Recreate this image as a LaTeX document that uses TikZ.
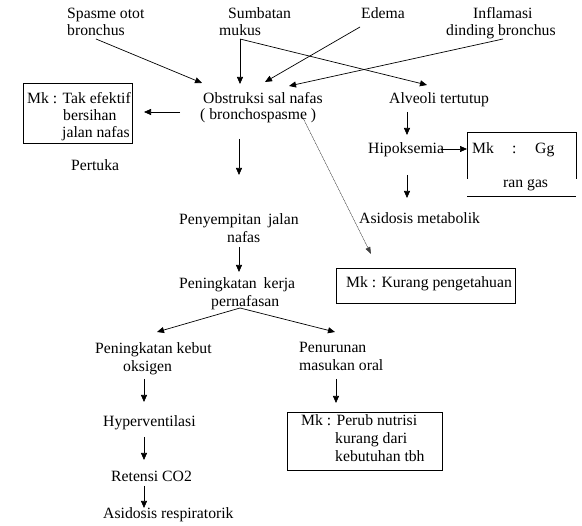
\documentclass[tikz,border=0pt]{standalone}
\usepackage{fontspec}
\setmainfont{Liberation Serif}
\usetikzlibrary{arrows.meta}
\begin{document}
\begin{tikzpicture}[x=1pt,y=-1pt,
  txt/.style={anchor=base west, inner sep=0pt, font=\fontsize{15.7}{18}\selectfont},
  arr/.style={-{Triangle[length=7pt,width=6pt]}, line width=0.7pt},
  dotarr/.style={-{Triangle[length=7pt,width=5pt]}, line width=0.6pt, densely dotted, draw=black!75, fill=black},
  boxx/.style={draw, line width=0.8pt, inner sep=0pt}]
\useasboundingbox (0,0) rectangle (582,526);
% top causes
\node[txt] (spa1) at (67,19) {Spasme otot};
\node[txt] (spa2) at (67,36) {bronchus};
\node[txt] (sum1) at (228,19) {Sumbatan};
\node[txt] (sum2) at (219,36) {mukus};
\node[txt] (ede) at (361,19) {Edema};
\node[txt] (inf1) at (473,19) {Inflamasi};
\node[txt] (inf2) at (446,36) {dinding bronchus};
% obstruksi
\node[txt] (obs1) at (203,104) {Obstruksi sal nafas};
\node[txt] (obs2) at (200,120) {( bronchospasme )};
\node[txt] (alv) at (389,104) {Alveoli tertutup};
% box 1
\node[boxx, minimum width=109pt, minimum height=60pt] (box1) at (77.5,113) {};
\node[txt] (b1a) at (27,104) {Mk : Tak efektif};
\node[txt] (b1b) at (63,121) {bersihan};
\node[txt] (b1c) at (62,138) {jalan nafas};
\node[txt] (per) at (71,171) {Pertuka};
% middle chain
\node[txt] (pen1) at (179,225) {Penyempitan\hspace{3pt} jalan};
\node[txt] (pen2) at (227,243) {nafas};
\node[txt] (pk1) at (179,289) {Peningkatan\hspace{3pt} kerja};
\node[txt] (pk2) at (211,307) {pernafasan};
\node[txt] (keb1) at (95,354) {Peningkatan kebut};
\node[txt] (keb2) at (123,372) {oksigen};
\node[txt] (hyp) at (103,427) {Hyperventilasi};
\node[txt] (ret) at (111,482) {Retensi CO2};
\node[txt] (asr) at (103,519) {Asidosis respiratorik};
\node[txt] (pnr1) at (299,353) {Penurunan};
\node[txt] (pnr2) at (299,371) {masukan oral};
% box 3
\node[boxx, minimum width=155pt, minimum height=58pt] (box3) at (364.5,441) {};
\node[txt] (b3a) at (301,426) {Mk : Perub nutrisi};
\node[txt] (b3b) at (335,444) {kurang dari};
\node[txt] (b3c) at (335,462) {kebutuhan tbh};
% right side
\node[txt] (hip) at (368,154) {Hipoksemia};
\node[txt] (gg1) at (472,154) {Mk};
\node[txt] (gg2) at (512,154) {:};
\node[txt] (gg3) at (535,154) {Gg};
\node[txt] (gg4) at (503,188) {ran gas};
\draw[line width=0.8pt] (467,179) -- (467,132) -- (576,132) -- (576,179);
\draw[line width=0.8pt] (467,196) -- (576,196);
\node[txt] (asm) at (359,224) {Asidosis metabolik};
\node[boxx, minimum width=179pt, minimum height=35pt] (box2) at (425.5,285.5) {};
\node[txt] (b2) at (346,288) {Mk : Kurang pengetahuan};
% connector end points
\coordinate (c1a) at (96,39);   \coordinate (c1b) at (202,83);
\coordinate (c2a) at (240,39);  \coordinate (c2b) at (240,84);  \coordinate (c2c) at (427,85);
\coordinate (c3a) at (360,27);  \coordinate (c3b) at (265,82);
\coordinate (c4a) at (503,39);  \coordinate (c4b) at (289,86);
\coordinate (c5a) at (180,112); \coordinate (c5b) at (144,112);
\coordinate (c6a) at (239,139); \coordinate (c6b) at (239,175);
\coordinate (c7a) at (302,116); \coordinate (c7b) at (371,254);
\coordinate (c8a) at (407,112); \coordinate (c8b) at (407,135);
\coordinate (c9a) at (441,149); \coordinate (c9b) at (467,149);
\coordinate (c10a) at (407,175); \coordinate (c10b) at (407,198);
\coordinate (c11a) at (239,247); \coordinate (c11b) at (239,272);
\coordinate (c12a) at (240,308); \coordinate (c12b) at (157,332); \coordinate (c12c) at (335,332);
\coordinate (c13a) at (144,379); \coordinate (c13b) at (144,402);
\coordinate (c14a) at (144,437); \coordinate (c14b) at (144,460);
\coordinate (c15a) at (144,486); \coordinate (c15b) at (144,508);
\coordinate (c16a) at (336,379); \coordinate (c16b) at (336,403);
% connectors
\draw[arr] (c1a) -- (c1b);
\draw[arr] (c2a) -- (c2b);
\draw[arr] (c2a) -- (c2c);
\draw[arr] (c3a) -- (c3b);
\draw[arr] (c4a) -- (c4b);
\draw[arr] (c5a) -- (c5b);
\draw[arr] (c6a) -- (c6b);
\draw[dotarr] (c7a) -- (c7b);
\draw[arr] (c8a) -- (c8b);
\draw[arr] (c9a) -- (c9b);
\draw[arr] (c10a) -- (c10b);
\draw[arr] (c11a) -- (c11b);
\draw[arr] (c12a) -- (c12b);
\draw[arr] (c12a) -- (c12c);
\draw[arr] (c13a) -- (c13b);
\draw[arr] (c14a) -- (c14b);
\draw[arr] (c15a) -- (c15b);
\draw[arr] (c16a) -- (c16b);
\end{tikzpicture}
\end{document}
